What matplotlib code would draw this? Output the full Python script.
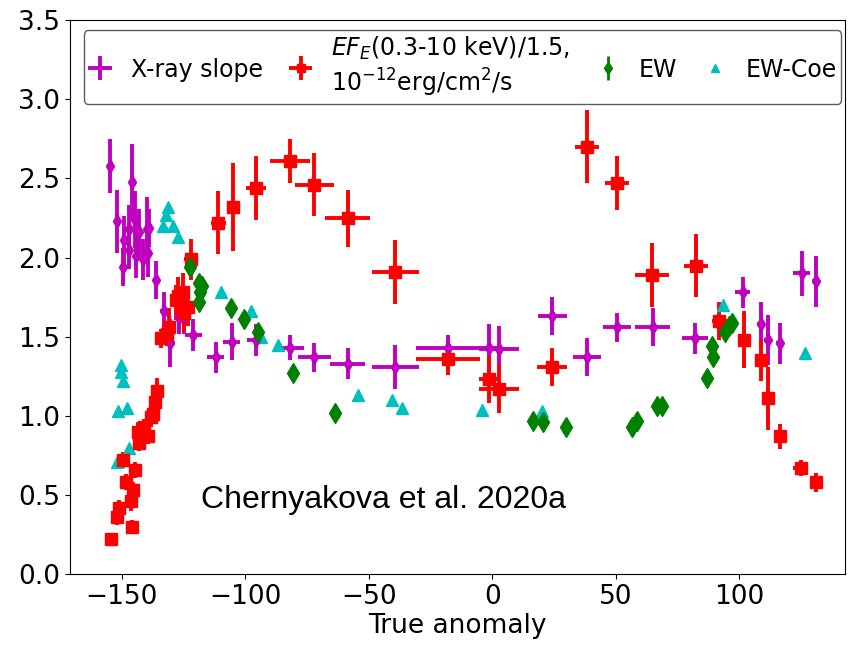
import matplotlib
matplotlib.use("Agg")
import matplotlib.pyplot as plt

# X-ray slope
slope_x = [-154.8, -152, -149.6, -149, -147, -147, -145.9, -144.7, -144.3, -143, -141.5,
           -140, -139.5, -139, -136.2, -133, -130.6, -127, -125, -121, -112, -105.5,
           -95.8, -82, -72, -58.6, -39.2, -17.8, -1.2, 2.8, 24.3, 38.4, 50.5, 65, 82,
           101.5, 108.7, 111.6, 116.4, 125.3, 131]
slope_y = [2.58, 2.23, 1.94, 2.11, 2.18, 2.05, 2.48, 2.24, 2.01, 2.16, 1.99,
           2.18, 2.03, 2.19, 1.86, 1.66, 1.46, 1.62, 1.64, 1.51, 1.37, 1.47,
           1.48, 1.43, 1.37, 1.33, 1.31, 1.43, 1.43, 1.42, 1.63, 1.37, 1.56, 1.56, 1.49,
           1.78, 1.58, 1.48, 1.46, 1.90, 1.85]
slope_yerr = [0.17, 0.2, 0.12, 0.15, 0.15, 0.12, 0.24, 0.18, 0.14, 0.15, 0.13,
              0.2, 0.15, 0.12, 0.12, 0.12, 0.15, 0.1, 0.12, 0.1, 0.1, 0.12,
              0.1, 0.08, 0.09, 0.1, 0.14, 0.08, 0.15, 0.15, 0.12, 0.12, 0.09, 0.12, 0.1,
              0.1, 0.14, 0.16, 0.13, 0.14, 0.16]
slope_xerr = [1, 1, 1, 1, 1, 1, 1, 1, 1, 1, 1,
              1, 1, 1, 1, 1.5, 2, 2, 2, 3.5, 3.5, 3.5,
              3.5, 5.7, 6.7, 7, 9.5, 13, 4, 8, 5.9, 5.8, 5.6, 7, 5.3,
              3, 1.5, 1.5, 1.5, 3.4, 1.5]

# X-ray flux / 1.5, 1e-12 erg/cm2/s
flux_x = [-154.4, -151.8, -151, -149.6, -148.3, -146.3, -146, -145.5, -144.7, -143,
          -143.5, -141, -139.5, -138.2, -137.4, -136.6, -135.8, -134.2, -131.8, -131,
          -128, -127.3, -125.3, -125, -123.3, -122, -111, -105, -95.8, -82,
          -72, -58.6, -39.2, -17.8, -1.2, 2.8, 24.3, 38.4, 50.5, 64.7,
          82.5, 92, 101.9, 108.7, 111.6, 116.4, 124.9, 131]
flux_y = [0.22, 0.36, 0.42, 0.72, 0.58, 0.46, 0.30, 0.53, 0.66, 0.83,
          0.90, 0.93, 0.87, 0.99, 1.01, 1.09, 1.16, 1.49, 1.52, 1.56,
          1.73, 1.76, 1.78, 1.65, 1.69, 1.99, 2.22, 2.32, 2.44, 2.61,
          2.46, 2.25, 1.91, 1.36, 1.23, 1.17, 1.31, 2.70, 2.47, 1.89,
          1.95, 1.60, 1.48, 1.35, 1.11, 0.87, 0.67, 0.58]
flux_yerr = [0.03, 0.05, 0.05, 0.05, 0.05, 0.06, 0.04, 0.05, 0.05, 0.05,
             0.06, 0.05, 0.05, 0.06, 0.06, 0.07, 0.08, 0.06, 0.08, 0.12,
             0.1, 0.12, 0.12, 0.12, 0.12, 0.13, 0.2, 0.28, 0.2, 0.14,
             0.2, 0.18, 0.2, 0.1, 0.15, 0.15, 0.12, 0.23, 0.17, 0.2,
             0.2, 0.12, 0.18, 0.13, 0.2, 0.08, 0.05, 0.06]
flux_xerr = [1, 1, 1, 1, 1, 1, 1, 1, 1, 1,
             1, 1, 1, 1, 1, 1, 1, 1.5, 1.5, 1.5,
             2, 2, 2, 2, 2, 3, 3, 2, 4, 8,
             8, 9, 9.5, 13, 4, 8, 6, 5, 5, 6.8,
             5, 3, 2, 2, 2, 2, 3, 2]

# line equivalent width
ew_x = [-122.5, -118.8, -118.4, -118.8, -117.5, -106, -100.6, -95, -80.8, -63.5,
        16.6, 20.6, 29.9, 56.6, 58.6, 66.7, 68.7, 86.9, 89.3, 88.9, 94.2, 95.8, 97]
ew_y = [1.94, 1.84, 1.78, 1.72, 1.82, 1.68, 1.61, 1.53, 1.27, 1.02,
        0.97, 0.96, 0.93, 0.93, 0.97, 1.06, 1.06, 1.24, 1.37, 1.44, 1.53, 1.57, 1.59]
ew_yerr = [0.03] * len(ew_x)

# EW from Coe
coe_x = [-152, -151.6, -150.4, -150.4, -149.6, -148, -147.1, -133.4, -132, -131.4,
         -129.3, -127.3, -110, -97.8, -93.8, -86.9, -54.2, -40.4, -36.4, -4,
         20.2, 93.4, 126.5]
coe_y = [0.71, 1.03, 1.32, 1.28, 1.22, 1.05, 0.80, 2.20, 2.27, 2.32,
         2.20, 2.13, 1.78, 1.66, 1.50, 1.45, 1.13, 1.10, 1.05, 1.04,
         1.03, 1.70, 1.40]

plt.rcParams["font.size"] = 19

fig = plt.figure(figsize=(8.5, 6.51), dpi=100)
ax = fig.add_axes([0.0824, 0.118, 0.912, 0.851])

h1 = ax.errorbar(slope_x, slope_y, xerr=slope_xerr, yerr=slope_yerr, fmt="d", color="m",
                 ms=7, elinewidth=2.8, capsize=0, label="X-ray slope")
h2 = ax.errorbar(flux_x, flux_y, xerr=flux_xerr, yerr=flux_yerr, fmt="s", color="r",
                 ms=8.5, elinewidth=2.8, capsize=0,
                 label="$EF_E$(0.3-10 keV)/1.5,\n$10^{-12}$erg/cm$^2$/s")
h3 = ax.errorbar(ew_x, ew_y, yerr=ew_yerr, fmt="d", color="g", ms=10, elinewidth=2,
                 capsize=0, label="EW")
h4, = ax.plot(coe_x, coe_y, "^", color="c", ms=8.5, ls="none", label="EW-Coe")

ax.text(-118, 0.47, "Chernyakova et al. 2020a", fontsize=23, family="Liberation Sans",
        va="center", ha="left")

ax.set_xlim(-171, 143)
ax.set_ylim(0, 3.5)
ax.set_xlabel("True anomaly", labelpad=2)
ax.set_xticks([-150, -100, -50, 0, 50, 100])
ax.set_yticks([0.0, 0.5, 1.0, 1.5, 2.0, 2.5, 3.0, 3.5])

ax.legend(handles=[h1, h2, h3, h4], loc="upper right", ncol=4, fontsize=17,
          markerscale=0.6, handlelength=1.0, handletextpad=0.8, columnspacing=1.1,
          borderpad=0.2, borderaxespad=0, bbox_to_anchor=(0.995, 0.982),
          edgecolor="0.2")

fig.savefig("out.png", dpi=100)
